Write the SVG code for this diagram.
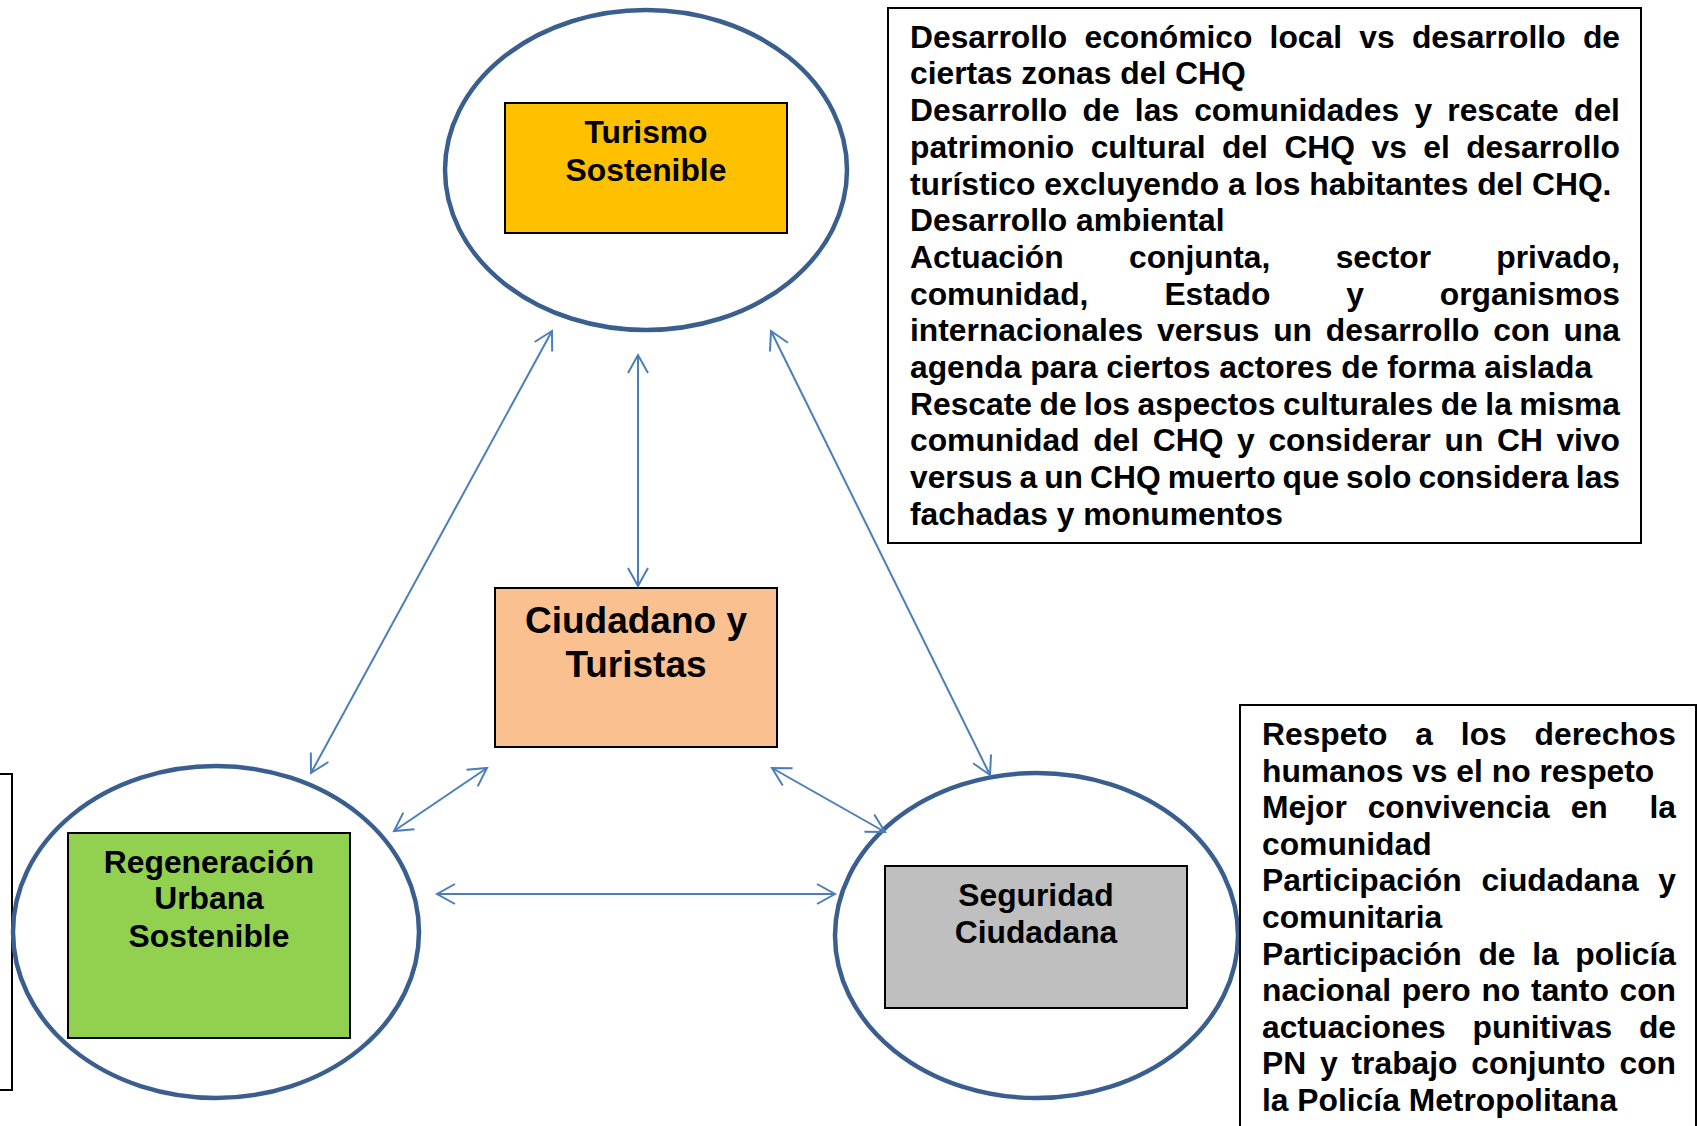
<svg xmlns="http://www.w3.org/2000/svg" width="1697" height="1126" viewBox="0 0 1697 1126">
<style>
.t{font-family:"Liberation Sans",Arial,sans-serif;font-weight:bold;font-size:31.8px;fill:#000}
.c{text-anchor:middle}
.big{font-size:37px}
.ell{fill:#fff;stroke:#3A5F8F;stroke-width:4.5}
.box{stroke:#000;stroke-width:2}
.note{fill:#fff;stroke:#000;stroke-width:2}
.con{stroke:#4A7EBB;stroke-width:2;fill:none;marker-start:url(#ah);marker-end:url(#ah)}
</style>
<defs>
<marker id="ah" markerUnits="userSpaceOnUse" markerWidth="24" markerHeight="24" viewBox="0 0 24 24" refX="20" refY="12" orient="auto-start-reverse">
<path d="M2,2 L20,12 L2,22" fill="none" stroke="#4A7EBB" stroke-width="2"/>
</marker>
</defs>
<rect width="1697" height="1126" fill="#fff"/>

<g id="note-left">
<rect class="note" x="-100" y="774" width="112" height="316"/>
</g>

<g id="turismo">
<ellipse class="ell" cx="646" cy="170" rx="201" ry="160"/>
<rect class="box" x="505" y="103" width="282" height="130" fill="#FFC000"/>
<text class="t c" x="646" y="143">Turismo</text>
<text class="t c" x="646" y="181">Sostenible</text>
</g>

<g id="ciudadano">
<rect class="box" x="495" y="588" width="282" height="159" fill="#FAC090"/>
<text class="t c big" x="636" y="633">Ciudadano y</text>
<text class="t c big" x="636" y="677">Turistas</text>
</g>

<g id="regeneracion">
<ellipse class="ell" cx="216" cy="932" rx="203" ry="166"/>
<rect class="box" x="68" y="833" width="282" height="205" fill="#92D050"/>
<text class="t c" x="209" y="873">Regeneración</text>
<text class="t c" x="209" y="909">Urbana</text>
<text class="t c" x="209" y="947">Sostenible</text>
</g>

<g id="seguridad">
<ellipse class="ell" cx="1036.5" cy="935.5" rx="201.5" ry="162.5"/>
<rect class="box" x="885" y="866" width="302" height="142" fill="#BFBFBF"/>
<text class="t c" x="1036" y="906">Seguridad</text>
<text class="t c" x="1036" y="943">Ciudadana</text>
</g>

<g id="note-top">
<rect class="note" x="888" y="8" width="753" height="535"/>
<text class="t" y="47.7"><tspan x="910">Desarrollo</tspan><tspan x="1084.5">económico</tspan><tspan x="1269.6">local</tspan><tspan x="1359.3">vs</tspan><tspan x="1411.9">desarrollo</tspan><tspan x="1582.9">de</tspan></text>
<text class="t" x="910" y="84.4">ciertas zonas del CHQ</text>
<text class="t" y="121.1"><tspan x="910">Desarrollo</tspan><tspan x="1082.5">de</tspan><tspan x="1134.8">las</tspan><tspan x="1194.2">comunidades</tspan><tspan x="1414.4">y</tspan><tspan x="1447.3">rescate</tspan><tspan x="1574">del</tspan></text>
<text class="t" y="157.8"><tspan x="910">patrimonio</tspan><tspan x="1090.7">cultural</tspan><tspan x="1222">del</tspan><tspan x="1284.4">CHQ</tspan><tspan x="1371.5">vs</tspan><tspan x="1423.3">el</tspan><tspan x="1466.2">desarrollo</tspan></text>
<text class="t" x="910" y="194.5">turístico excluyendo a los habitantes del CHQ.</text>
<text class="t" x="910" y="231.2">Desarrollo ambiental</text>
<text class="t" y="267.9"><tspan x="910">Actuación</tspan><tspan x="1129">conjunta,</tspan><tspan x="1335.7">sector</tspan><tspan x="1496.3">privado,</tspan></text>
<text class="t" y="304.6"><tspan x="910">comunidad,</tspan><tspan x="1164.4">Estado</tspan><tspan x="1346.3">y</tspan><tspan x="1439.8">organismos</tspan></text>
<text class="t" y="341.3"><tspan x="910">internacionales</tspan><tspan x="1157">versus</tspan><tspan x="1273.2">un</tspan><tspan x="1325.8">desarrollo</tspan><tspan x="1493.3">con</tspan><tspan x="1563.5">una</tspan></text>
<text class="t" x="910" y="378">agenda para ciertos actores de forma aislada</text>
<text class="t" y="414.7"><tspan x="910">Rescate</tspan><tspan x="1039.5">de</tspan><tspan x="1084.1">los</tspan><tspan x="1137.6">aspectos</tspan><tspan x="1283">culturales</tspan><tspan x="1440.7">de</tspan><tspan x="1485.3">la</tspan><tspan x="1519.3">misma</tspan></text>
<text class="t" y="451.4"><tspan x="910">comunidad</tspan><tspan x="1093.2">del</tspan><tspan x="1152.8">CHQ</tspan><tspan x="1237.1">y</tspan><tspan x="1268.4">considerar</tspan><tspan x="1444.6">un</tspan><tspan x="1497.1">CH</tspan><tspan x="1556.4">vivo</tspan></text>
<text class="t" y="488.1"><tspan x="910">versus</tspan><tspan x="1019.5">a</tspan><tspan x="1044.2">un</tspan><tspan x="1090.1">CHQ</tspan><tspan x="1167.8">muerto</tspan><tspan x="1282.6">que</tspan><tspan x="1346.1">solo</tspan><tspan x="1418.5">considera</tspan><tspan x="1575.8">las</tspan></text>
<text class="t" x="910" y="524.8">fachadas y monumentos</text>
</g>

<g id="note-right">
<rect class="note" x="1240" y="705" width="456" height="500"/>
<text class="t" y="745"><tspan x="1262">Respeto</tspan><tspan x="1415.3">a</tspan><tspan x="1460.8">los</tspan><tspan x="1534.6">derechos</tspan></text>
<text class="t" x="1262" y="781.6">humanos vs el no respeto</text>
<text class="t" y="818.2"><tspan x="1262">Mejor</tspan><tspan x="1367.7">convivencia</tspan><tspan x="1570.7">en</tspan><tspan x="1649.5">la</tspan></text>
<text class="t" x="1262" y="854.8">comunidad</text>
<text class="t" y="891.4"><tspan x="1262">Participación</tspan><tspan x="1481.4">ciudadana</tspan><tspan x="1658.3">y</tspan></text>
<text class="t" x="1262" y="928">comunitaria</text>
<text class="t" y="964.6"><tspan x="1262">Participación</tspan><tspan x="1478.4">de</tspan><tspan x="1532.2">la</tspan><tspan x="1575.3">policía</tspan></text>
<text class="t" y="1001.2"><tspan x="1262">nacional</tspan><tspan x="1401.8">pero</tspan><tspan x="1481.4">no</tspan><tspan x="1531.1">tanto</tspan><tspan x="1619.5">con</tspan></text>
<text class="t" y="1037.8"><tspan x="1262">actuaciones</tspan><tspan x="1472.6">punitivas</tspan><tspan x="1638.9">de</tspan></text>
<text class="t" y="1074.4"><tspan x="1262">PN</tspan><tspan x="1320">y</tspan><tspan x="1351.5">trabajo</tspan><tspan x="1471.3">conjunto</tspan><tspan x="1619.5">con</tspan></text>
<text class="t" x="1262" y="1111">la Policía Metropolitana</text>
</g>

<g id="connectors">
<line class="con" x1="552" y1="331" x2="311" y2="773"/>
<line class="con" x1="638" y1="355" x2="638" y2="586"/>
<line class="con" x1="771" y1="331" x2="990" y2="775"/>
<line class="con" x1="487" y1="768" x2="394" y2="831"/>
<line class="con" x1="772" y1="768" x2="885" y2="832"/>
<line class="con" x1="437" y1="894" x2="835" y2="894"/>
</g>
</svg>
